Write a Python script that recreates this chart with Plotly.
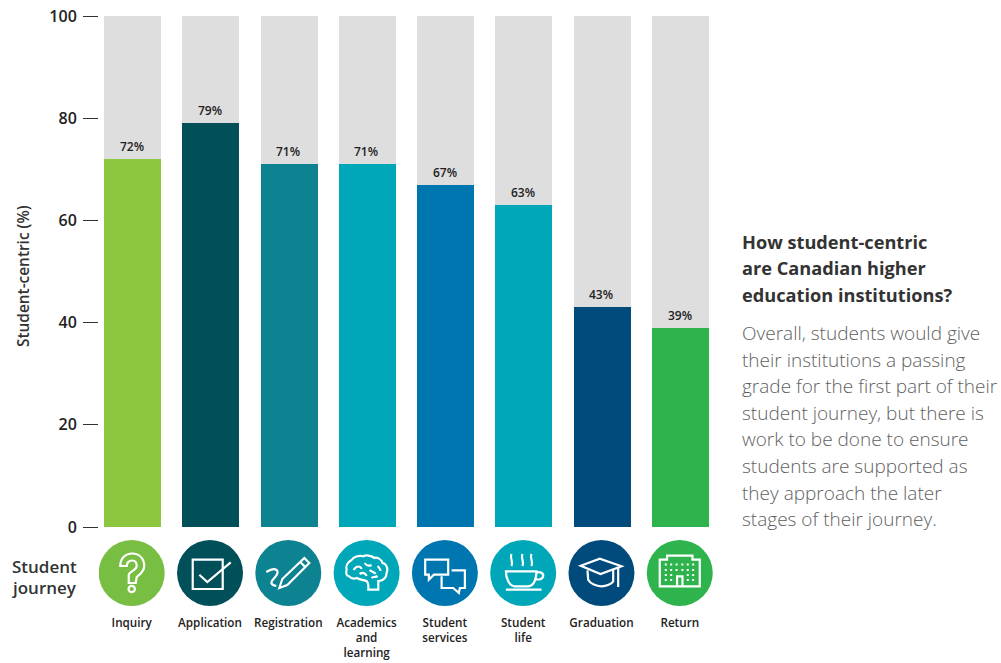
import re
import plotly.graph_objects as go

# Survey scores by stage of the student journey
stages = ["Inquiry", "Application", "Registration", "Academics<br>and<br>learning",
          "Student<br>services", "Student<br>life", "Graduation", "Return"]
scores = [72, 79, 71, 71, 67, 63, 43, 39]
bar_colors = ["#8DC63F", "#004F59", "#0D8290", "#00A7B8", "#0076B1", "#00A7B8", "#014A7C", "#2FB44D"]
badge_colors = ["#78BE43", "#004F59", "#0D8290", "#00A7B8", "#0076B1", "#00A7B8", "#014A7C", "#2FB44D"]
y_ticks = [0, 20, 40, 60, 80, 100]
badge_level = [0] * len(stages)

heading_lines = ["How student-centric", "are Canadian higher", "education institutions?"]
heading_rows = [241.5, 267.5, 294.5]
body_lines = ["Overall, students would give", "their institutions a passing",
              "grade for the first part of their", "student journey, but there is",
              "work to be done to ensure", "students are supported as",
              "they approach the later", "stages of their journey."]
body_rows = [333, 360, 386, 413, 439, 466, 493, 519]

WIDTH, HEIGHT = 1001, 663
PLOT_L, PLOT_R, PLOT_T = 99, 715, 16
BARS_BOTTOM, STRIP_BOTTOM = 527, 611
STRIP_TOP = 535
FONT = "Open Sans"


def frac_x(x):
    return (x - PLOT_L) / (PLOT_R - PLOT_L)


def frac_y(y):
    return (STRIP_BOTTOM - y) / (STRIP_BOTTOM - PLOT_T)


def ring(cx, cy, r):
    k = 0.552 * r
    return (f"M{cx-r} {cy} C{cx-r} {cy-k} {cx-k} {cy-r} {cx} {cy-r} "
            f"C{cx+k} {cy-r} {cx+r} {cy-k} {cx+r} {cy} "
            f"C{cx+r} {cy+k} {cx+k} {cy+r} {cx} {cy+r} "
            f"C{cx-k} {cy+r} {cx-r} {cy+k} {cx-r} {cy} Z")


def flip(path):
    # Pixel-sized shape paths measure y upward; the glyphs below are written y-down.
    out, is_y = [], False
    for tok in re.findall(r"[MLCZ]|-?\d+\.?\d*", path):
        if tok in "MLCZ":
            out.append(tok)
            is_y = False
        else:
            out.append(str(-float(tok)) if is_y else tok)
            is_y = not is_y
    return " ".join(out)


window_dots = "".join(
    f"M{x} {y} L{x+2} {y} L{x+2} {y+2} L{x} {y+2} Z "
    for x in (-15, -9.6, -4.2, 1.6, 7, 12.4)
    for y in (-9.5, -4, 1, 6)
    if not (-5 < x < 3 and y > 0)
)

# One list of (outline, filled) pairs per stage, drawn in white on its badge
glyphs = [
    [("M-11.5 -7 C-11.5 -15 -6 -19.5 0.5 -19.5 C8 -19.5 12.5 -14 12.5 -7 C12.5 -1 8 1 5 4 L4 10 L-3 10 "
      "L-3 2 C-3 -1 5 -3 5 -7 C5 -10.5 3 -12.5 0.5 -12.5 C-3 -12.5 -5 -10 -5 -7 Z", False),
     (ring(0, 16, 3.2), False)],
    [("M-17.3 -13.3 L12.7 -13.3 L12.7 16 L-17.3 16 Z", False),
     ("M-10.7 1.7 L-2.7 9 L20.7 -10.7", False)],
    [("M-22 -1 C-12 -7 -7 -2 -14 5 C-19 10 -17 12 -12 13", False),
     ("M-9 15 L-6 6 L16 -15 L21 -10 L-1 12 Z", False),
     ("M12 -11 L17 -6", False)],
    [("M1.7 16.7 L11.7 16.7 L11.7 8 C16 8 20 5 20 0 C22 -4 20 -9 16 -10 C15 -14 10 -16 8 -15 "
      "C4 -18 -1 -18 -3.3 -16.7 C-8 -18 -13 -16 -15 -13 C-19 -11 -21 -7 -20 -3 C-21 0 -20 3 -18 3 "
      "C-15 6 -12 6 -10 5 C-6 7 -2 7 0 8 C2 10 2 13 1.7 16.7 Z", False),
     ("M-13 -3 C-10 -8 -6 -7 -5 -4 M-2 -10 C0 -7 3 -7 5 -8 M-7 1 C-4 -1 -1 0 0 3 "
      "M3 -3 C5 -1 8 -1 9 1 M5 5 C7 3 8 5 11 3 M11 -7 C13 -5 14 -4 14 -2", False)],
    [("M-19.7 -13.3 L3.3 -13.3 L3.3 1.7 L-11 1.7 L-16 6.7 L-16 1.7 L-19.7 1.7 Z", False),
     ("M6.7 -2.7 L20 -2.7 L20 15 L15 15 L14 20 L8.3 15 L-3.3 15 L-3.3 3.3", False)],
    [("M-17.3 -1.7 L13.3 -1.7 C13.3 5 11 13.3 5 13.3 L-8.3 13.3 C-14 13.3 -17.3 5 -17.3 -1.7 Z", False),
     ("M-17.3 16.7 L18.3 16.7", False),
     ("M13.3 0 C16 -2 20.5 0 20 3 C19.5 6.5 15 7 12 6", False),
     ("M-11.7 -19 C-14 -15 -9.5 -12 -11.7 -7 M-0.7 -19 C-3 -15 1.5 -12 -0.7 -7 M8.3 -19 C6 -15 10.5 -12 8.3 -7", False)],
    [("M-20.7 -7.3 L-1.7 -14.3 L20 -6.7 L-1 1 Z", False),
     ("M-14 -2.7 L-13.3 6.7 C-11 11 -5 13.3 0 13.3 C5 13.3 10 11 11.7 8.3 L11.7 -3.3", False),
     ("M16.7 -5 L16.7 14", False)],
    [("M-20 -13.3 L-12.7 -13.3 L-12.7 -17.3 L12.7 -17.3 L12.7 -13.3 L20 -13.3 L20 13.3 L-20 13.3 Z", False),
     ("M-2.7 13.3 L-2.7 3.3 L2.7 3.3 L2.7 13.3", False),
     (window_dots, True)],
]

fig = go.Figure()

fig.add_bar(x=stages, y=scores, width=0.728, marker=dict(color=bar_colors, line_width=0), hoverinfo="skip")
fig.add_bar(x=stages, y=[100 - v for v in scores], width=0.728,
            marker=dict(color="#DEDEDE", line_width=0), hoverinfo="skip")

# Badge row sits on its own hidden axis below the bars
fig.add_scatter(x=stages, y=badge_level, xaxis="x2", yaxis="y2", mode="markers", hoverinfo="skip",
                marker=dict(size=66, color=badge_colors, line_width=0))

shapes = []
for stage, parts in zip(stages, glyphs):
    for path, filled in parts:
        shapes.append(dict(
            type="path", xref="x2", yref="y2",
            xsizemode="pixel", ysizemode="pixel",
            xanchor=stage, yanchor=0,
            path=flip(path),
            line=dict(color="white", width=0 if filled else 2.2),
            fillcolor="white" if filled else "rgba(0,0,0,0)",
        ))

annotations = []

for stage, value in zip(stages, scores):
    annotations.append(dict(
        text=f"{value}%", xref="x", yref="y", x=stage, y=value,
        xanchor="center", yanchor="bottom", yshift=2, xshift=-1, showarrow=False,
        font=dict(family=FONT, size=12, color="#222222", weight=600),
    ))


def note(text, x, y, size, color, weight, angle=0):
    annotations.append(dict(
        text=text, xref="paper", yref="paper", x=frac_x(x), y=frac_y(y),
        xanchor="center" if angle else "left", yanchor="middle", showarrow=False,
        textangle=angle,
        font=dict(family=FONT, size=size, color=color, weight=weight),
    ))


for line, row in zip(heading_lines, heading_rows):
    note(line, 740, row, 18.2, "#333333", 700)
for line, row in zip(body_lines, body_rows):
    note(line, 740, row, 19, "#5F5F5F", 300)
note("Student", 10, 566.5, 17, "#333333", 600)
note("journey", 10, 587.5, 17, "#333333", 600)
note("Student-centric (%)", 23, 276, 15.4, "#333333", 600, angle=-90)

height = STRIP_BOTTOM - PLOT_T
fig.update_layout(
    width=WIDTH, height=HEIGHT, autosize=False,
    margin=dict(l=PLOT_L, r=WIDTH - PLOT_R, t=PLOT_T, b=HEIGHT - STRIP_BOTTOM, pad=0),
    paper_bgcolor="white", plot_bgcolor="white",
    barmode="stack", showlegend=False,
    shapes=shapes, annotations=annotations,
    xaxis=dict(
        type="category", categoryorder="array", categoryarray=stages,
        range=[-0.428, 7.44], showgrid=False, zeroline=False, showline=False,
        ticks="", showticklabels=False, automargin=False, anchor="y",
    ),
    yaxis=dict(
        domain=[(STRIP_BOTTOM - BARS_BOTTOM) / height, 1],
        range=[0, 100], tickvals=y_ticks, ticks="outside", ticklen=15, tickwidth=1,
        tickcolor="#333333", showgrid=False, zeroline=False, showline=False,
        ticklabelstandoff=3, automargin=False, anchor="x",
        tickfont=dict(family=FONT, size=16, color="#222222", weight=600),
    ),
    xaxis2=dict(
        type="category", categoryorder="array", categoryarray=stages,
        range=[-0.418, 7.45], anchor="y2", showgrid=False, zeroline=False, showline=False,
        ticks="", ticklabelstandoff=3, tickangle=0, automargin=False,
        tickfont=dict(family=FONT, size=11.7, color="#222222", weight=600),
    ),
    yaxis2=dict(
        domain=[0, (STRIP_BOTTOM - STRIP_TOP) / height],
        range=[-1, 1], visible=False, anchor="x2", automargin=False,
    ),
)

fig.write_html("out.html")
